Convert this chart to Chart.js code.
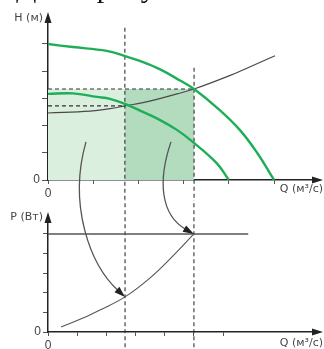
<!DOCTYPE html>
<html>
<head>
<meta charset="utf-8">
<script src="https://cdn.jsdelivr.net/npm/chart.js@4.4.1/dist/chart.umd.min.js"></script>
<style>
  html, body { margin: 0; padding: 0; background: #fff; }
  #wrap { position: relative; width: 324px; height: 349px; overflow: hidden; }
  #head { position: absolute; left: 0; top: 0; }
  #power { position: absolute; left: 0; top: 200px; }
  #overlay { position: absolute; left: 0; top: 0; pointer-events: none; }
</style>
</head>
<body>
<div id="wrap">
  <canvas id="head" width="324" height="200"></canvas>
  <canvas id="power" width="324" height="149"></canvas>
  <canvas id="overlay" width="324" height="349"></canvas>
</div>
<script>
// Pump head curve at full speed, H(Q)
const qHigh = [0, 0.55, 1.3, 1.7, 2.03, 2.48, 2.92, 3.23, 3.76, 4.24, 4.62, 5.0];
const hHigh = [4.99, 4.88, 4.74, 4.55, 4.37, 4.06, 3.65, 3.34, 2.62, 1.84, 1.01, 0];
// Pump head curve at reduced speed
const qLow = [0, 0.55, 1.08, 1.37, 1.75, 2.1, 2.48, 2.85, 3.2, 3.73, 4.0];
const hLow = [3.16, 3.18, 3.05, 2.98, 2.76, 2.5, 2.2, 1.84, 1.4, 0.62, 0];
// System (pipeline) curve
const qSys = [0, 0.93, 1.37, 1.7, 2.1, 2.85, 3.23, 4.03, 4.47, 5.02];
const hSys = [2.46, 2.53, 2.62, 2.72, 2.84, 3.16, 3.34, 3.84, 4.16, 4.56];
// Operating points on the head chart
const opQ = [1.7, 3.23];
const opH = [2.72, 3.34];
// Upper end of the vertical guide through each operating point
const guideTopH = [5.59, 4.12];
// Power consumption curve P(Q)
const qPow = [0.45, 1.2, 1.78, 2.64, 3.5, 4.25, 5.0];
const pPow = [0.26, 0.71, 1.12, 1.79, 2.76, 3.83, 5.0];
// Operating points on the power chart
const pOpQ = [2.64, 5.0];
const pOpP = [1.79, 5.0];
// Constant-power reference line
const pLineQ = [0, 6.86];
const pLineP = [5.0, 5.0];
// Tick values on each axis
const headXTicks = [0, 1, 2, 3, 4, 5];
const headYTicks = [0, 1, 2, 3, 4, 5];
const powXTicks = [0, 1, 2, 3, 4, 5, 6];
const powYTicks = [0, 1, 2, 3, 4, 5];
// Axis captions
const headYTitle = 'H (м)';
const powYTitle = 'P (Вт)';
const qTitle = 'Q (м³/с)';
const captionText = 'Дано: рисунок';

const GREEN = '#1fae58';
const AXIS = '#222';
const LABEL = '#444';
const SANS = "'DejaVu Sans', 'Liberation Sans', sans-serif";

Chart.defaults.font.family = "'Liberation Sans', Arial, sans-serif";

const pts = (xs, ys) => xs.map((x, i) => ({ x: x, y: ys[i] }));

function axisArrows(titleX, titleY, yTitleDy, qTitleDy) {
  return {
    id: 'axisArrows',
    afterDraw(chart) {
      const { ctx, chartArea: a } = chart;
      ctx.save();
      ctx.fillStyle = AXIS;
      // arrow on the vertical axis
      ctx.beginPath();
      ctx.moveTo(a.left, a.top - 10);
      ctx.lineTo(a.left - 3.5, a.top + 1);
      ctx.lineTo(a.left + 3.5, a.top + 1);
      ctx.closePath();
      ctx.fill();
      // arrow on the horizontal axis
      ctx.beginPath();
      ctx.moveTo(a.right + 10, a.bottom);
      ctx.lineTo(a.right - 1, a.bottom - 3.5);
      ctx.lineTo(a.right - 1, a.bottom + 3.5);
      ctx.closePath();
      ctx.fill();
      // axis titles
      ctx.fillStyle = LABEL;
      ctx.font = '11px ' + SANS;
      ctx.textBaseline = 'middle';
      ctx.textAlign = 'right';
      ctx.fillText(titleY, a.left - 5, a.top + yTitleDy);
      ctx.fillText(titleX, a.right + 10, a.bottom + qTitleDy);
      ctx.restore();
    }
  };
}

function linScale(min, max, ticks, tickLen, fitKey, fitVal) {
  return {
    type: 'linear',
    min: min,
    max: max,
    afterBuildTicks: s => { s.ticks = ticks.map(v => ({ value: v })); },
    afterFit: s => { s[fitKey] = fitVal; },
    grid: { drawOnChartArea: false, drawTicks: true, tickLength: tickLen, color: '#555', lineWidth: 1 },
    border: { display: true, color: AXIS, width: 1.5 },
    ticks: {
      autoSkip: false, maxRotation: 0, padding: 2,
      color: LABEL, font: { size: 12 },
      callback: v => (v === 0 ? '0' : '')
    }
  };
}

const baseOpts = {
  responsive: false,
  animation: false,
  events: [],
  plugins: { legend: { display: false }, tooltip: { enabled: false } },
  elements: { point: { radius: 0 } }
};

const dashed = { borderColor: '#333', borderWidth: 1.1, borderDash: [4, 3], fill: false, clip: false, tension: 0 };
const smooth = { fill: false, tension: 0.4 };

// Head chart: pump curves, system curve and operating areas
const headChart = new Chart(document.getElementById('head'), {
  type: 'line',
  data: {
    datasets: [
      { data: pts([0, opQ[1]], [opH[1], opH[1]]), fill: 'origin', backgroundColor: '#dbefdf', borderWidth: 0, order: 10 },
      { data: pts([opQ[0], opQ[1]], [opH[1], opH[1]]), fill: 'origin', backgroundColor: '#b3dbbd', borderWidth: 0, order: 9 },
      Object.assign({ data: pts([0, opQ[1]], [opH[1], opH[1]]), order: 5 }, dashed),
      Object.assign({ data: pts([0, opQ[0]], [opH[0], opH[0]]), order: 5 }, dashed),
      Object.assign({ data: pts([opQ[0], opQ[0]], [guideTopH[0], -1]), order: 5 }, dashed),
      Object.assign({ data: pts([opQ[1], opQ[1]], [guideTopH[1], -1]), order: 5 }, dashed),
      Object.assign({ data: pts(qSys, hSys), borderColor: '#4a4a4a', borderWidth: 1.2, order: 2 }, smooth),
      Object.assign({ data: pts(qHigh, hHigh), borderColor: GREEN, borderWidth: 2.4, order: 1 }, smooth),
      Object.assign({ data: pts(qLow, hLow), borderColor: GREEN, borderWidth: 2.4, order: 1 }, smooth)
    ]
  },
  options: Object.assign({}, baseOpts, {
    layout: { padding: { left: 0, right: 11, top: 22, bottom: 0 } },
    scales: {
      x: linScale(0, 5.86, headXTicks, 4, 'height', 20),
      y: linScale(0, 5.8, headYTicks, 6, 'width', 48)
    }
  }),
  plugins: [axisArrows(qTitle, headYTitle, -4, 9)]
});

// Power chart: power consumption versus flow
const powChart = new Chart(document.getElementById('power'), {
  type: 'line',
  data: {
    datasets: [
      Object.assign({ data: pts([pOpQ[0], pOpQ[0]], [8, -1]), order: 5 }, dashed),
      Object.assign({ data: pts([pOpQ[1], pOpQ[1]], [8, -1]), order: 5 }, dashed),
      { data: pts(pLineQ, pLineP), borderColor: '#555', borderWidth: 1.4, fill: false, order: 3 },
      Object.assign({ data: pts(qPow, pPow), borderColor: '#555', borderWidth: 1.1, order: 2 }, smooth)
    ]
  },
  options: Object.assign({}, baseOpts, {
    layout: { padding: { left: 0, right: 11, top: 22, bottom: 0 } },
    scales: {
      x: linScale(0, 9.08, powXTicks, 4, 'height', 17),
      y: linScale(0, 5.61, powYTicks, 5, 'width', 48)
    }
  }),
  plugins: [axisArrows(qTitle, powYTitle, -5, 11)]
});

// Curved arrows linking each head-chart region to its power value
// start and control points in head-chart units, end at the power operating point
const arrowStartQ = [0.84, 2.72];
const arrowStartH = [1.40, 1.40];
const arrowC1 = [[0.44, -0.92], [2.43, 0.0]];
const arrowC2 = [[0.93, -3.12], [2.48, -1.28]];

(function drawOverlay() {
  const cv = document.getElementById('overlay');
  const ctx = cv.getContext('2d');
  const hx = headChart.scales.x, hy = headChart.scales.y;
  const px = powChart.scales.x, py = powChart.scales.y;
  const powTop = 200;
  const head = (q, h) => [hx.getPixelForValue(q), hy.getPixelForValue(h)];

  for (let i = 0; i < 2; i++) {
    const s = head(arrowStartQ[i], arrowStartH[i]);
    const c1 = head(arrowC1[i][0], arrowC1[i][1]);
    const c2 = head(arrowC2[i][0], arrowC2[i][1]);
    const e = [px.getPixelForValue(pOpQ[i]), py.getPixelForValue(pOpP[i]) + powTop];
    const ang = Math.atan2(e[1] - c2[1], e[0] - c2[0]);
    const len = 11, half = 3.6;
    const bx = e[0] - len * Math.cos(ang), by = e[1] - len * Math.sin(ang);
    ctx.strokeStyle = '#555';
    ctx.lineWidth = 1.3;
    ctx.beginPath();
    ctx.moveTo(s[0], s[1]);
    ctx.bezierCurveTo(c1[0], c1[1], c2[0], c2[1], bx + 2 * Math.cos(ang), by + 2 * Math.sin(ang));
    ctx.stroke();
    ctx.fillStyle = '#222';
    ctx.beginPath();
    ctx.moveTo(e[0], e[1]);
    ctx.lineTo(bx - half * Math.sin(ang), by + half * Math.cos(ang));
    ctx.lineTo(bx + half * Math.sin(ang), by - half * Math.cos(ang));
    ctx.closePath();
    ctx.fill();
  }

  // caption line running above the figure, mostly outside the frame
  ctx.fillStyle = '#111';
  ctx.font = "30px 'Liberation Serif', serif";
  ctx.textBaseline = 'alphabetic';
  ctx.textAlign = 'left';
  ctx.fillText(captionText, 16, -3);
})();
</script>
</body>
</html>
